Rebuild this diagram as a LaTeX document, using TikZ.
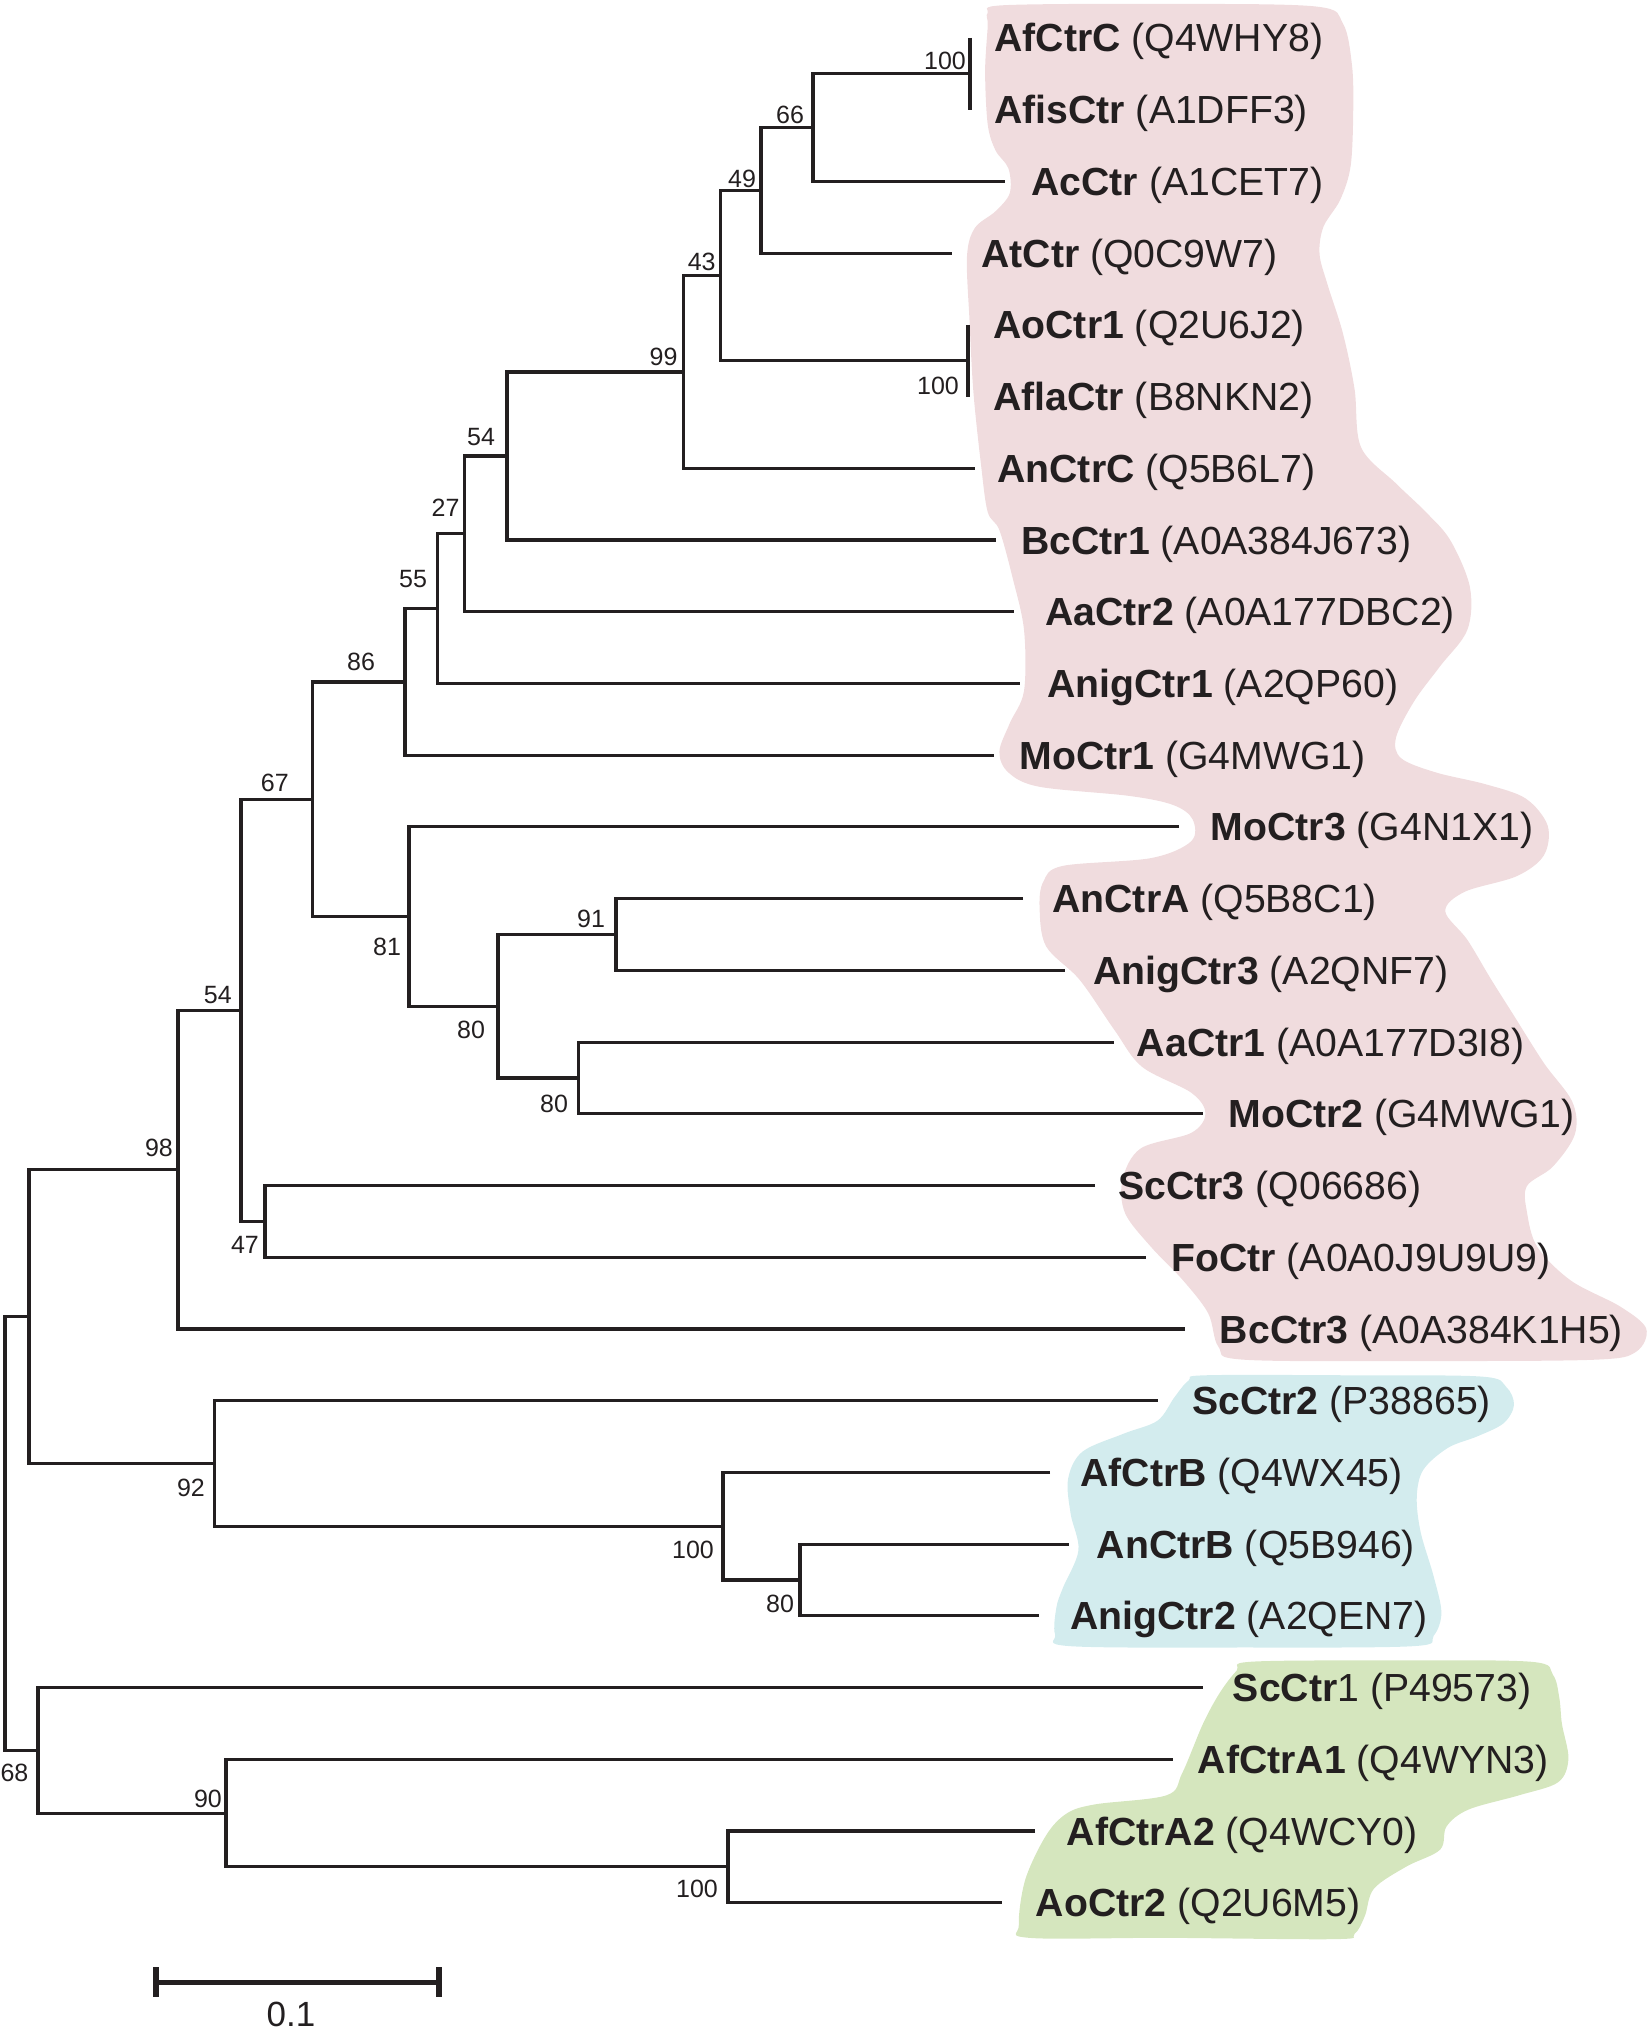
\documentclass[tikz,border=0pt]{standalone}
\usepackage{fontspec}
\setmainfont{Liberation Sans}
\definecolor{ink}{HTML}{231F20}
\definecolor{pinkbg}{HTML}{F0DCDE}
\definecolor{bluebg}{HTML}{D3ECEE}
\definecolor{greenbg}{HTML}{D5E6BE}
\begin{document}
\begin{tikzpicture}[x=0.5pt,y=-0.5pt,
  br/.style={draw=ink, line width=1.55pt},
  leaf/.style={anchor=base west, inner sep=0pt, text=ink, font=\fontsize{19.6}{23}\selectfont},
  boot/.style={anchor=center, inner sep=0pt, text=ink, font=\fontsize{12.5}{15}\selectfont},
  blob/.style={smooth cycle, tension=0.55}
]
\useasboundingbox (0,0) rectangle (1650,2033);

% ---------- coloured group backgrounds (coordinates in 1273x1568 frame) ----------
\begin{scope}[scale=1.2962]
\fill[pinkbg] plot[blob] coordinates {
(762,10) (775,4) (900,3) (1015,5) (1036,18) (1043,50) (1044,85) (1042,128) (1034,154)
(1021,175) (1018,196) (1024,219) (1036,257) (1045,300) (1050,345) (1077,373) (1100,395)
(1119,417) (1134,453) (1132,486) (1111,514) (1091,541) (1077,569) (1081,585) (1108,596)
(1146,605) (1177,616) (1194,637) (1191,660) (1170,676) (1130,688) (1115,703) (1132,725)
(1150,755) (1167,782) (1191,820) (1213,850) (1215,875) (1198,900) (1178,915) (1178,935)
(1186,962) (1212,988) (1250,1008) (1270,1025) (1262,1043) (1230,1049) (1100,1050)
(960,1049) (940,1039) (932,1013) (912,987) (888,962) (868,936) (866,910) (880,886)
(919,874) (930,859) (919,843) (881,823) (860,795) (833,756) (807,730) (802,700) (805,680)
(820,668) (888,662) (919,649) (920,632) (905,621) (871,614) (802,607) (778,596) (771,580)
(779,558) (790,533) (790,486) (781,445) (771,409) (762,395) (757,360) (751,303) (748,248)
(746,198) (752,176) (768,163) (779,149) (778,130) (768,116) (762,96) (760,55) (762,20)};
\fill[bluebg] plot[blob] coordinates {
(917,1065) (930,1061) (1040,1061) (1143,1062) (1162,1070) (1168,1084) (1160,1098)
(1140,1108) (1117,1117) (1098,1134) (1093,1155) (1096,1182) (1106,1216) (1112,1244)
(1106,1262) (1090,1270) (960,1271) (826,1270) (814,1261) (815,1240) (820,1225) (832,1196)
(826,1168) (824,1141) (835,1120) (867,1106) (893,1096) (906,1078)};
\fill[greenbg] plot[blob] coordinates {
(954,1289) (965,1282) (1070,1281) (1181,1282) (1198,1292) (1203,1310) (1205,1330)
(1210,1357) (1202,1375) (1172,1385) (1133,1396) (1116,1409) (1111,1427) (1085,1440)
(1060,1457) (1053,1478) (1045,1492) (1030,1496) (900,1495) (794,1495) (786,1485)
(791,1450) (807,1416) (823,1399) (845,1392) (900,1385) (912,1368) (928,1330) (941,1306)};
\end{scope}

% ---------- leaf tips ----------
\coordinate (tAfCtrC)   at (970,38);
\coordinate (tAfisCtr)  at (970,109.7);
\coordinate (tAcCtr)    at (1005,181.4);
\coordinate (tAtCtr)    at (951.6,253.2);
\coordinate (tAoCtr1)   at (968,324.9);
\coordinate (tAflaCtr)  at (968,396.6);
\coordinate (tAnCtrC)   at (975,468.3);
\coordinate (tBcCtr1)   at (996,540);
\coordinate (tAaCtr2)   at (1014,611.8);
\coordinate (tAnigCtr1) at (1020,683.5);
\coordinate (tMoCtr1)   at (993.5,755.2);
\coordinate (tMoCtr3)   at (1179,826.9);
\coordinate (tAnCtrA)   at (1023,898.6);
\coordinate (tAnigCtr3) at (1065,970.4);
\coordinate (tAaCtr1)   at (1113.5,1042.1);
\coordinate (tMoCtr2)   at (1202.5,1113.8);
\coordinate (tScCtr3)   at (1095,1185.5);
\coordinate (tFoCtr)    at (1146,1257.2);
\coordinate (tBcCtr3)   at (1184.5,1329);
\coordinate (tScCtr2)   at (1157.5,1400.7);
\coordinate (tAfCtrB)   at (1050,1472.4);
\coordinate (tAnCtrB)   at (1068.5,1544.1);
\coordinate (tAnigCtr2) at (1038.5,1615.8);
\coordinate (tScCtr1)   at (1202.5,1687.6);
\coordinate (tAfCtrAa)  at (1172.5,1759.3);
\coordinate (tAfCtrAb)  at (1035,1831);
\coordinate (tAoCtr2)   at (1002,1902.7);

% ---------- internal nodes ----------
\coordinate (n100a) at (970,73.9);
\coordinate (n66)   at (813,127.6);
\coordinate (n49)   at (761,190.4);
\coordinate (n100b) at (968,360.8);
\coordinate (n43)   at (720.5,275.6);
\coordinate (n99)   at (683.7,372);
\coordinate (n54a)  at (507,456);
\coordinate (n27)   at (464.5,533.9);
\coordinate (n55)   at (437.7,608.7);
\coordinate (n86)   at (405,682);
\coordinate (n91)   at (616,934.5);
\coordinate (n80b)  at (578.8,1078);
\coordinate (n80a)  at (498,1006.2);
\coordinate (n81)   at (409,916.6);
\coordinate (n67)   at (312.7,799.3);
\coordinate (n47)   at (265,1221.4);
\coordinate (n54b)  at (241,1010.3);
\coordinate (n98)   at (178,1169.7);
\coordinate (n80c)  at (800,1580);
\coordinate (n100c) at (723,1526.2);
\coordinate (n92)   at (214.7,1463.5);
\coordinate (nA)    at (29,1316.6);
\coordinate (n100d) at (728,1866.9);
\coordinate (n90)   at (226,1813.1);
\coordinate (n68)   at (38,1750.4);
\coordinate (root)  at (5,1533.5);

% ---------- branches ----------
\draw[br] (tAfCtrC) -- (tAfisCtr);
\draw[br] (n100a) -| (n66) |- (tAcCtr);
\draw[br] (n66) -| (n49) |- (tAtCtr);
\draw[br] (tAoCtr1) -- (tAflaCtr);
\draw[br] (n49) -| (n43) |- (n100b);
\draw[br] (n43) -| (n99) |- (tAnCtrC);
\draw[br] (n99) -| (n54a) |- (tBcCtr1);
\draw[br] (n54a) -| (n27) |- (tAaCtr2);
\draw[br] (n27) -| (n55) |- (tAnigCtr1);
\draw[br] (n55) -| (n86) |- (tMoCtr1);
\draw[br] (tAnCtrA) -| (n91) |- (tAnigCtr3);
\draw[br] (tAaCtr1) -| (n80b) |- (tMoCtr2);
\draw[br] (n91) -| (n80a) |- (n80b);
\draw[br] (tMoCtr3) -| (n81) |- (n80a);
\draw[br] (n86) -| (n67) |- (n81);
\draw[br] (tScCtr3) -| (n47) |- (tFoCtr);
\draw[br] (n67) -| (n54b) |- (n47);
\draw[br] (n54b) -| (n98) |- (tBcCtr3);
\draw[br] (tAnCtrB) -| (n80c) |- (tAnigCtr2);
\draw[br] (tAfCtrB) -| (n100c) |- (n80c);
\draw[br] (tScCtr2) -| (n92) |- (n100c);
\draw[br] (n98) -| (nA) |- (n92);
\draw[br] (tAfCtrAb) -| (n100d) |- (tAoCtr2);
\draw[br] (tAfCtrAa) -| (n90) |- (n100d);
\draw[br] (tScCtr1) -| (n68) |- (n90);
\draw[br] (nA) -| (root) |- (n68);

% ---------- leaf labels ----------
\node[leaf] (lAfCtrC)   at (994,52)      {\textbf{AfCtrC} (Q4WHY8)};
\node[leaf] (lAfisCtr)  at (994,123.7)   {\textbf{AfisCtr} (A1DFF3)};
\node[leaf] (lAcCtr)    at (1031,195.4)  {\textbf{AcCtr} (A1CET7)};
\node[leaf] (lAtCtr)    at (981,267.2)   {\textbf{AtCtr} (Q0C9W7)};
\node[leaf] (lAoCtr1)   at (993,338.9)   {\textbf{AoCtr1} (Q2U6J2)};
\node[leaf] (lAflaCtr)  at (993,410.6)   {\textbf{AflaCtr} (B8NKN2)};
\node[leaf] (lAnCtrC)   at (997,482.3)   {\textbf{AnCtrC} (Q5B6L7)};
\node[leaf] (lBcCtr1)   at (1021,554)    {\textbf{BcCtr1} (A0A384J673)};
\node[leaf] (lAaCtr2)   at (1045,625.8)  {\textbf{AaCtr2} (A0A177DBC2)};
\node[leaf] (lAnigCtr1) at (1047,697.5)  {\textbf{AnigCtr1} (A2QP60)};
\node[leaf] (lMoCtr1)   at (1019,769.2)  {\textbf{MoCtr1} (G4MWG1)};
\node[leaf] (lMoCtr3)   at (1210.5,840.9) {\textbf{MoCtr3} (G4N1X1)};
\node[leaf] (lAnCtrA)   at (1052,912.6)  {\textbf{AnCtrA} (Q5B8C1)};
\node[leaf] (lAnigCtr3) at (1093,984.4)  {\textbf{AnigCtr3} (A2QNF7)};
\node[leaf] (lAaCtr1)   at (1136.5,1056.1) {\textbf{AaCtr1} (A0A177D3I8)};
\node[leaf] (lMoCtr2)   at (1228,1127.8) {\textbf{MoCtr2} (G4MWG1)};
\node[leaf] (lScCtr3)   at (1118,1199.5) {\textbf{ScCtr3} (Q06686)};
\node[leaf] (lFoCtr)    at (1171,1271.2) {\textbf{FoCtr} (A0A0J9U9U9)};
\node[leaf] (lBcCtr3)   at (1219.5,1343) {\textbf{BcCtr3} (A0A384K1H5)};
\node[leaf] (lScCtr2)   at (1192,1414.7) {\textbf{ScCtr2} (P38865)};
\node[leaf] (lAfCtrB)   at (1080,1486.4) {\textbf{AfCtrB} (Q4WX45)};
\node[leaf] (lAnCtrB)   at (1096.5,1558.1) {\textbf{AnCtrB} (Q5B946)};
\node[leaf] (lAnigCtr2) at (1070,1629.8) {\textbf{AnigCtr2} (A2QEN7)};
\node[leaf] (lScCtr1)   at (1232.5,1701.6) {\textbf{ScCtr}1 (P49573)};
\node[leaf] (lAfCtrAa)  at (1197.5,1773.3) {\textbf{AfCtrA1} (Q4WYN3)};
\node[leaf] (lAfCtrAb)  at (1066.5,1845) {\textbf{AfCtrA2} (Q4WCY0)};
\node[leaf] (lAoCtr2)   at (1035.5,1916.7) {\textbf{AoCtr2} (Q2U6M5)};

% ---------- bootstrap values ----------
\node[boot] (b100a) at (945,60.7)   {100};
\node[boot] (b66)   at (790,115)    {66};
\node[boot] (b49)   at (742,178.6)  {49};
\node[boot] (b43)   at (701.7,262)  {43};
\node[boot] (b99)   at (663.6,356.6) {99};
\node[boot] (b100b) at (938,385.7)  {100};
\node[boot] (b54a)  at (481,437)    {54};
\node[boot] (b27)   at (445.5,507.5) {27};
\node[boot] (b55)   at (413,579.3)  {55};
\node[boot] (b86)   at (361,662)    {86};
\node[boot] (b67)   at (274.8,783)  {67};
\node[boot] (b81)   at (387,947)    {81};
\node[boot] (b91)   at (591,919)    {91};
\node[boot] (b80a)  at (471,1030)   {80};
\node[boot] (b80b)  at (554,1103.5) {80};
\node[boot] (b54b)  at (217.8,995.5) {54};
\node[boot] (b98)   at (159,1148)   {98};
\node[boot] (b47)   at (245,1244.6) {47};
\node[boot] (b92)   at (191,1488)   {92};
\node[boot] (b100c) at (693,1550)   {100};
\node[boot] (b80c)  at (780,1603.6) {80};
\node[boot] (b68)   at (14.5,1772.5) {68};
\node[boot] (b90)   at (208,1799)   {90};
\node[boot] (b100d) at (697,1889)   {100};

% ---------- scale bar ----------
\coordinate (sbL) at (156,1982);
\coordinate (sbR) at (439,1982);
\draw[draw=ink, line width=2.5pt] (sbL) -- (sbR);
\draw[draw=ink, line width=2.8pt] (156,1967) -- (156,1997);
\draw[draw=ink, line width=2.8pt] (439,1967) -- (439,1997);
\node[anchor=base, inner sep=0pt, text=ink, font=\fontsize{17.5}{20}\selectfont] (sblab) at (291,2026) {0.1};
\end{tikzpicture}
\end{document}
